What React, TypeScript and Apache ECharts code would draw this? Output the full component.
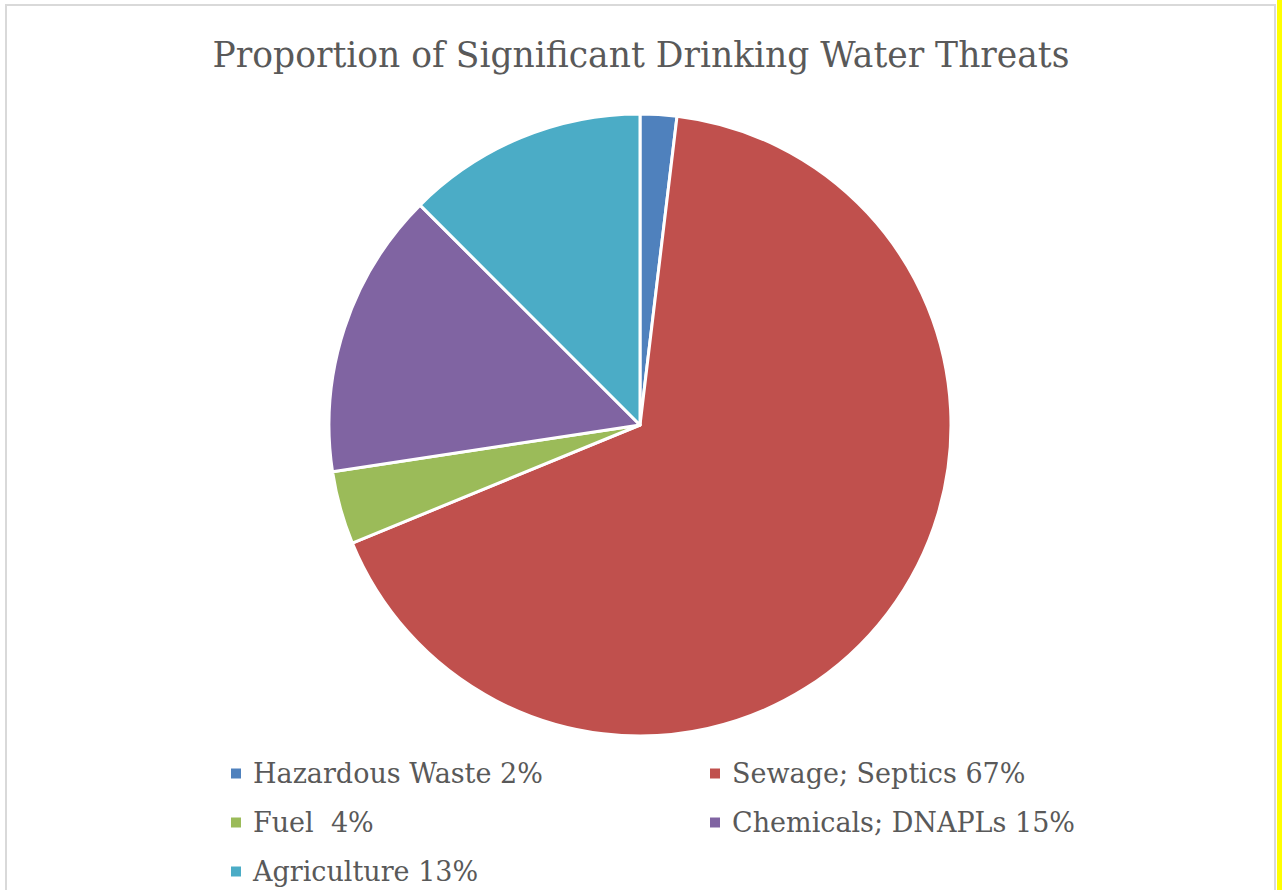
import React, { useEffect, useRef } from "react";
import * as echarts from "echarts";

const title = "Proportion of Significant Drinking Water Threats";
const categories = ["Hazardous Waste", "Sewage; Septics", "Fuel", "Chemicals; DNAPLs", "Agriculture"];
const values = [1.9, 66.9, 3.8, 14.9, 12.5];
const legendLabels = ["Hazardous Waste 2%", "Sewage; Septics 67%", "Fuel  4%", "Chemicals; DNAPLs 15%", "Agriculture 13%"];
const colors = ["#4F81BD", "#C0504D", "#9BBB59", "#8064A2", "#4BACC6"];
// legend grid placement: [column, row] for each category
const legendCells = [[0, 0], [1, 0], [0, 1], [1, 1], [0, 2]];

const FONT = "'DejaVu Serif', 'Liberation Serif', serif";

export default function App() {
  const ref = useRef<HTMLDivElement>(null);
  useEffect(() => {
    if (!ref.current) return;
    const chart = echarts.init(ref.current, null, { renderer: "svg" });
    const labelOf = (name: string) => legendLabels[categories.indexOf(name)];
    const colLeft = [224, 703];
    const rowTop = 755;
    const rowStep = 49;
    const legends = categories.map((c, i) => ({
      orient: "horizontal",
      icon: "rect",
      itemWidth: 12,
      itemHeight: 12,
      selectedMode: false,
      padding: 5,
      left: colLeft[legendCells[i][0]],
      top: rowTop + legendCells[i][1] * rowStep,
      data: [c],
      formatter: labelOf,
      textStyle: {
        fontFamily: FONT,
        fontSize: 27,
        color: "#595959",
        padding: [0, 0, 0, 6],
      },
    }));
    chart.setOption({
      animation: false,
      backgroundColor: "#ffffff",
      color: colors,
      title: {
        text: title,
        left: "center",
        top: 32,
        textStyle: {
          fontFamily: FONT,
          fontSize: 34.5,
          fontWeight: "normal",
          color: "#595959",
        },
      },
      legend: legends,
      graphic: [
        {
          type: "rect",
          shape: { x: 6, y: 5, width: 1269, height: 900 },
          style: { fill: "none", stroke: "#d9d9d9", lineWidth: 2 },
          silent: true,
        },
        {
          type: "rect",
          shape: { x: 1277, y: 0, width: 5, height: 890 },
          style: { fill: "#ffff00" },
          silent: true,
        },
      ],
      series: [
        {
          type: "pie",
          center: [640, 425],
          radius: [0, 311],
          startAngle: 90,
          clockwise: true,
          label: { show: false },
          labelLine: { show: false },
          emphasis: { disabled: true },
          itemStyle: { borderColor: "#ffffff", borderWidth: 3 },
          data: categories.map((c, i) => ({ name: c, value: values[i] })),
        },
      ],
    });
    return () => chart.dispose();
  }, []);
  return (
    <div
      ref={ref}
      style={{ position: "fixed", left: 0, top: 0, width: 1282, height: 890 }}
    />
  );
}
